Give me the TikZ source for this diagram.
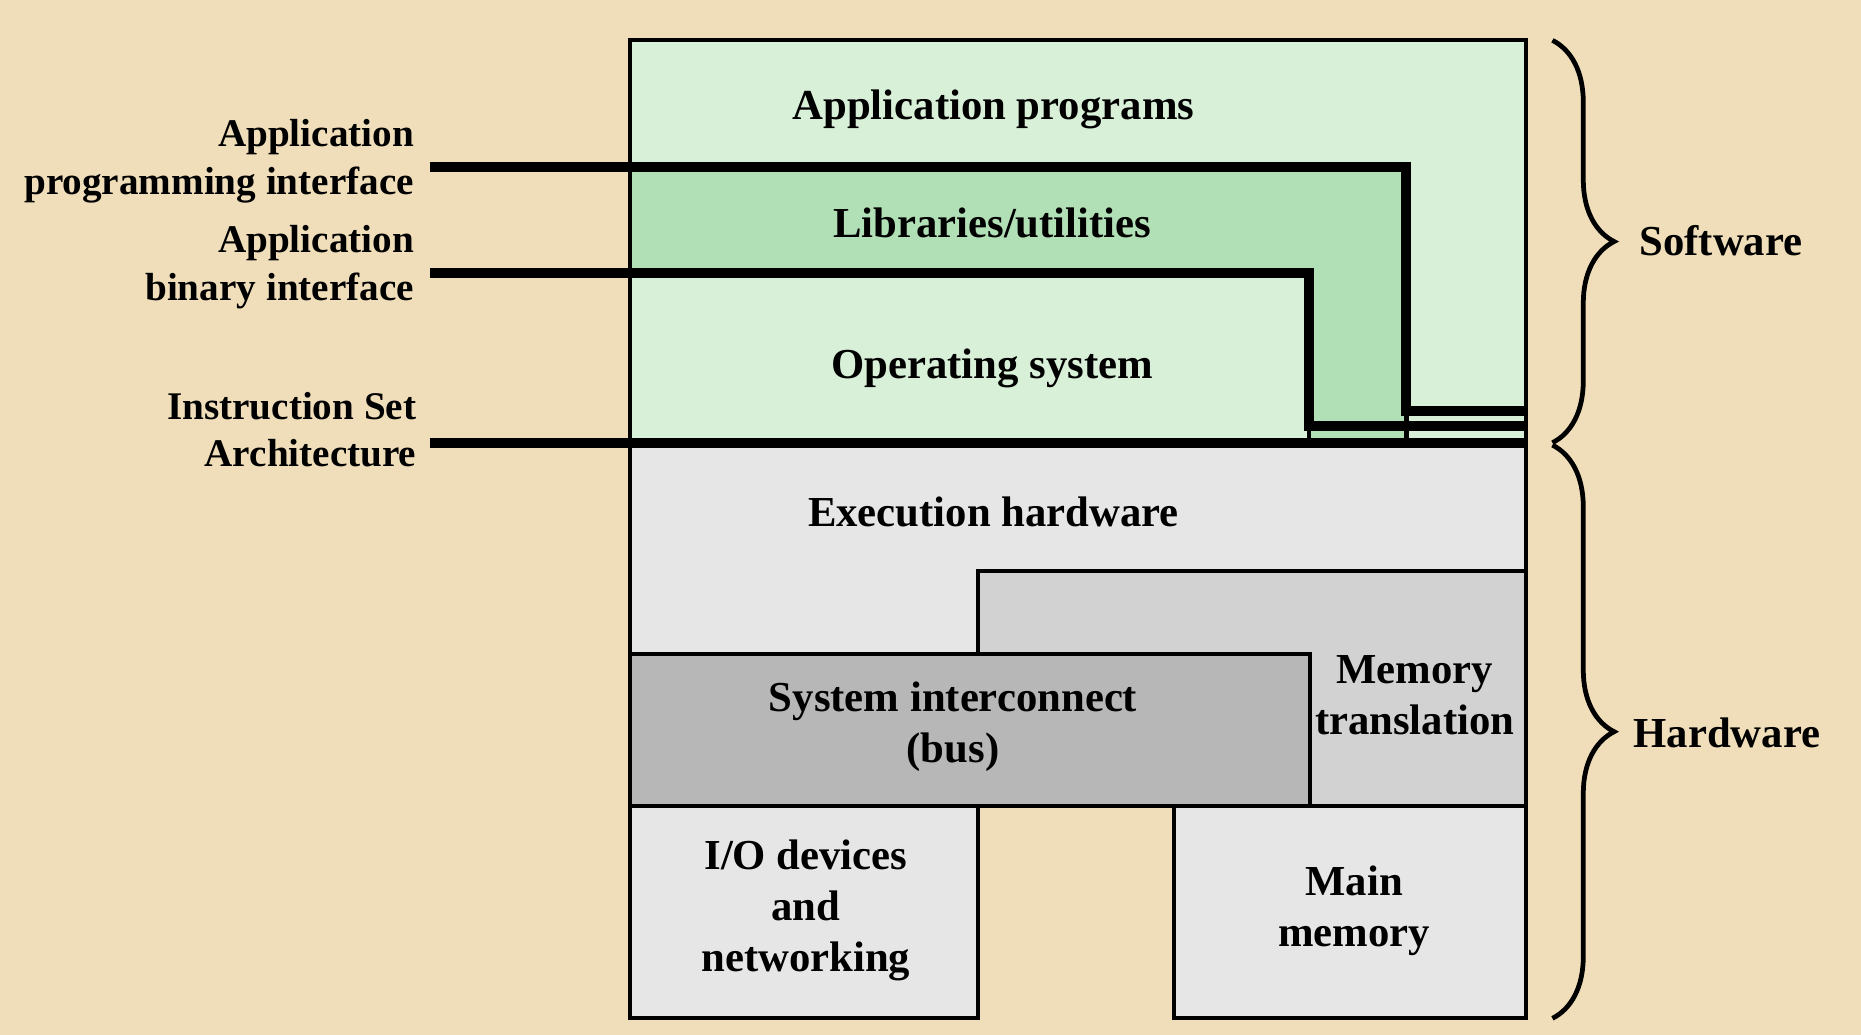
\documentclass[tikz,border=0pt]{standalone}
\usepackage{fontspec}
\setmainfont{Liberation Serif}
\usetikzlibrary{decorations.pathreplacing}
\definecolor{parchment}{HTML}{EFDEB9}
\definecolor{swlight}{HTML}{D8EFD8}
\definecolor{swdark}{HTML}{B2E0B6}
\definecolor{hwlight}{HTML}{E6E6E6}
\definecolor{hwmid}{HTML}{D2D2D2}
\definecolor{hwdark}{HTML}{B7B7B7}
\begin{document}
\begin{tikzpicture}[x=1pt,y=-1pt,
  thinline/.style={line width=3.5pt, line join=miter},
  iface/.style={line width=8.5pt, line join=miter},
  boxlabel/.style={font=\fontsize{36}{43}\selectfont\bfseries, inner sep=0pt, align=center},
  sidelabel/.style={font=\fontsize{33}{40}\selectfont\bfseries, inner sep=0pt, align=right, anchor=east},
  bracestyle/.style={decorate, decoration={brace, amplitude=52pt}, line width=4pt}]

% page and background
\useasboundingbox (0,0) rectangle (1568,872);
\fill[parchment] (0,0) rectangle (1568,872);

% key corners of the layered stack
\coordinate (apiL) at (362,141);
\coordinate (apiC) at (1185,141);
\coordinate (apiD) at (1185,346);
\coordinate (apiR) at (1286,346);
\coordinate (abiL) at (362,230);
\coordinate (abiC) at (1103,230);
\coordinate (abiD) at (1103,359);
\coordinate (abiR) at (1286,359);
\coordinate (isaL) at (362,373);
\coordinate (isaR) at (1286,373);

% software layers
\filldraw[thinline, fill=swlight] (531,34) rectangle (1286,373);
\filldraw[thinline, fill=swdark] (531,141) -- (1185,141) -- (1185,373) -- (1103,373)
  -- (1103,230) -- (531,230) -- cycle;
\filldraw[thinline, fill=swlight] (531,230) rectangle (1103,373);

% hardware blocks
\filldraw[thinline, fill=hwlight] (531,373) rectangle (1286,551);
\filldraw[thinline, fill=hwmid] (824,481) rectangle (1286,679);
\filldraw[thinline, fill=hwdark] (531,551) rectangle (1104,679);
\filldraw[thinline, fill=hwlight] (531,679) rectangle (824,858);
\filldraw[thinline, fill=hwlight] (989,679) rectangle (1286,858);

% interface boundaries
\draw[iface] (apiL) -- (apiC) -- (apiD) -- (apiR);
\draw[iface] (abiL) -- (abiC) -- (abiD) -- (abiR);
\draw[iface] (isaL) -- (isaR);

% layer names
\node[boxlabel, anchor=base] (app) at (837,101) {Application programs};
\node[boxlabel, anchor=base] (lib) at (836,200) {Libraries/utilities};
\node[boxlabel, anchor=base] (os) at (836,319) {Operating system};
\node[boxlabel, anchor=base] (exec) at (837,444) {Execution hardware};
\node[boxlabel] (bus) at (803,612) {System interconnect\\(bus)};
\node[boxlabel] (mmu) at (1192,586) {Memory\\translation};
\node[boxlabel] (io) at (679,767) {I/O devices\\and\\networking};
\node[boxlabel] (mem) at (1141,767) {Main\\memory};

% interface names
\node[sidelabel] (apilab) at (349,136) {Application\\programming interface};
\node[sidelabel] (abilab) at (349,225) {Application\\binary interface};
\node[sidelabel] (isalab) at (351,362) {Instruction Set\\Architecture};

% braces
\coordinate (swTop) at (1308,34);
\coordinate (swBot) at (1308,373);
\coordinate (hwTop) at (1308,375);
\coordinate (hwBot) at (1308,858);
\draw[bracestyle] (swTop) -- (swBot);
\draw[bracestyle] (hwTop) -- (hwBot);
\node[boxlabel, anchor=base] (sw) at (1450,215) {Software};
\node[boxlabel, anchor=base] (hw) at (1455,630) {Hardware};
\end{tikzpicture}
\end{document}
